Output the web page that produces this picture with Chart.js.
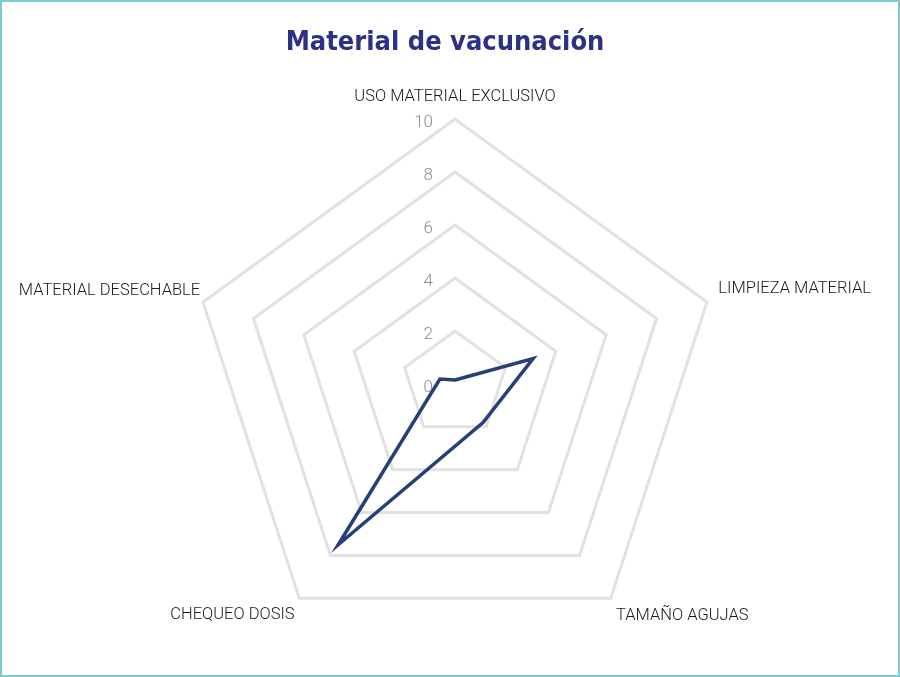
<!DOCTYPE html>
<html>
<head>
<meta charset="utf-8">
<script src="https://cdn.jsdelivr.net/npm/chart.js@4.4.0/dist/chart.umd.min.js"></script>
<style>
  html, body { margin: 0; padding: 0; background: #ffffff; }
  #wrap { width: 900px; height: 677px; position: relative; }
  canvas { display: block; }
</style>
</head>
<body>
<div id="wrap"><canvas id="c" width="900" height="677"></canvas></div>
<script>
const categories = ['USO MATERIAL EXCLUSIVO', 'LIMPIEZA MATERIAL', 'TAMAÑO AGUJAS', 'CHEQUEO DOSIS', 'MATERIAL DESECHABLE'];
const values = [0.15, 3.1, 1.8, 7.5, 0.6];
const tickValues = [0, 2, 4, 6, 8, 10];
const titleText = 'Material de vacunación';
const labelPadding = [12, 12, 9, 8, 3];

const frame = {
  id: 'frame',
  beforeDraw(chart) {
    const ctx = chart.ctx;
    ctx.save();
    ctx.fillStyle = '#ffffff';
    ctx.fillRect(0, 0, chart.width, chart.height);
    ctx.strokeStyle = '#7fcaca';
    ctx.lineWidth = 2;
    ctx.strokeRect(1, 1, chart.width - 2, chart.height - 2);
    ctx.restore();
  }
};

const tickPlugin = {
  id: 'tickPlugin',
  afterDraw(chart) {
    const s = chart.scales.r;
    const ctx = chart.ctx;
    ctx.save();
    ctx.font = '300 17px Roboto';
    ctx.fillStyle = '#8c8c8c';
    ctx.textAlign = 'right';
    ctx.textBaseline = 'middle';
    tickValues.forEach(v => {
      const d = s.getDistanceFromCenterForValue(v);
      ctx.fillText(String(v), s.xCenter - 22, s.yCenter - d + 4);
    });
    ctx.restore();
  }
};

new Chart(document.getElementById('c'), {
  type: 'radar',
  data: {
    labels: categories,
    datasets: [{
      data: values,
      borderColor: '#263f78',
      borderWidth: 3.5,
      fill: false,
      pointRadius: 0,
      pointHoverRadius: 0,
      tension: 0
    }]
  },
  options: {
    responsive: false,
    animation: false,
    devicePixelRatio: 1,
    layout: { padding: { left: 0, right: 10, top: 0, bottom: 11 } },
    plugins: {
      legend: { display: false },
      tooltip: { enabled: false },
      title: {
        display: true,
        text: titleText,
        color: '#2d3181',
        font: { family: "'DejaVu Sans Condensed', 'Liberation Sans Narrow', sans-serif", size: 27, weight: 'bold' },
        padding: { top: 27, bottom: 12.9 }
      }
    },
    scales: {
      r: {
        min: 0,
        max: 10,
        beginAtZero: true,
        ticks: { display: false, stepSize: 2 },
        angleLines: { display: false },
        grid: { color: '#e1e1e1', lineWidth: 3 },
        pointLabels: {
          color: '#1a1a1a',
          padding: (ctx) => labelPadding[ctx.index],
          font: { family: 'Roboto', size: 16.5, weight: '300' }
        }
      }
    }
  },
  plugins: [frame, tickPlugin]
});
</script>
</body>
</html>
